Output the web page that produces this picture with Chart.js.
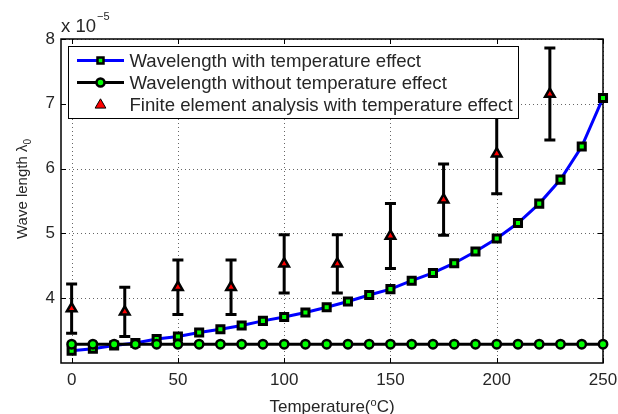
<!DOCTYPE html>
<html>
<head>
<meta charset="utf-8">
<script src="https://cdn.jsdelivr.net/npm/chart.js@4"></script>
<style>
  html, body { margin: 0; padding: 0; background: #fff; }
  #wrap { width: 618px; height: 414px; }
</style>
</head>
<body>
<div id="wrap"><canvas id="waveChart" width="618" height="414"></canvas></div>
<script>
// Wavelength values are in units of 1e-5 (see the exponent label on the y axis)
const temps = [0, 10, 20, 30, 40, 50, 60, 70, 80, 90, 100, 110, 120, 130, 140, 150, 160, 170, 180, 190, 200, 210, 220, 230, 240, 250];
const withTemp = [3.19, 3.22, 3.27, 3.31, 3.37, 3.41, 3.47, 3.52, 3.58, 3.65, 3.71, 3.78, 3.86, 3.95, 4.05, 4.14, 4.27, 4.39, 4.54, 4.72, 4.92, 5.16, 5.46, 5.83, 6.34, 7.09];
const withoutTemp = [3.29, 3.29, 3.29, 3.29, 3.29, 3.29, 3.29, 3.29, 3.29, 3.29, 3.29, 3.29, 3.29, 3.29, 3.29, 3.29, 3.29, 3.29, 3.29, 3.29, 3.29, 3.29, 3.29, 3.29, 3.29, 3.29];
const feaTemps = [0, 25, 50, 75, 100, 125, 150, 175, 200, 225];
const feaValues = [3.84, 3.79, 4.17, 4.17, 4.53, 4.53, 4.96, 5.52, 6.23, 7.15];
const feaErrors = [0.38, 0.38, 0.42, 0.42, 0.45, 0.45, 0.50, 0.55, 0.62, 0.71];
const xTicks = [0, 50, 100, 150, 200, 250];
const yTicks = [4, 5, 6, 7, 8];

const FONT = "'Liberation Sans', Arial, Helvetica, sans-serif";
const TEXT = '#262626';

const toPoints = (xs, ys) => xs.map((x, i) => ({ x: x, y: ys[i] }));

// grid, box, inward ticks, error bars, legend and axis titles
const framePlugin = {
    id: 'frame',
    beforeDatasetsDraw(chart) {
        const { ctx, chartArea: { left, right, top, bottom }, scales: { x, y } } = chart;
        ctx.save();

        // dotted grid
        ctx.strokeStyle = 'rgba(0,0,0,0.6)';
        ctx.lineWidth = 1;
        ctx.setLineDash([1, 3]);
        xTicks.forEach(v => {
            const px = Math.round(x.getPixelForValue(v)) + 0.5;
            ctx.beginPath(); ctx.moveTo(px, top); ctx.lineTo(px, bottom); ctx.stroke();
        });
        yTicks.forEach(v => {
            const py = Math.round(y.getPixelForValue(v)) + 0.5;
            ctx.beginPath(); ctx.moveTo(left, py); ctx.lineTo(right, py); ctx.stroke();
        });
        ctx.setLineDash([]);

        // axes box
        ctx.strokeStyle = '#000';
        ctx.lineWidth = 1.5;
        ctx.strokeRect(left, top, right - left, bottom - top);

        // ticks pointing inward on all four sides
        ctx.lineWidth = 1;
        const tl = 5;
        xTicks.forEach(v => {
            const px = Math.round(x.getPixelForValue(v)) + 0.5;
            ctx.beginPath();
            ctx.moveTo(px, bottom); ctx.lineTo(px, bottom - tl);
            ctx.moveTo(px, top); ctx.lineTo(px, top + tl);
            ctx.stroke();
        });
        yTicks.forEach(v => {
            const py = Math.round(y.getPixelForValue(v)) + 0.5;
            ctx.beginPath();
            ctx.moveTo(left, py); ctx.lineTo(left + tl, py);
            ctx.moveTo(right, py); ctx.lineTo(right - tl, py);
            ctx.stroke();
        });

        // error bars for the FE results
        ctx.lineWidth = 3;
        ctx.lineCap = 'butt';
        feaTemps.forEach((t, i) => {
            const px = x.getPixelForValue(t);
            const hi = y.getPixelForValue(feaValues[i] + feaErrors[i]);
            const lo = y.getPixelForValue(feaValues[i] - feaErrors[i]);
            ctx.beginPath();
            ctx.moveTo(px, hi); ctx.lineTo(px, lo);
            ctx.moveTo(px - 5.5, hi); ctx.lineTo(px + 5.5, hi);
            ctx.moveTo(px - 5.5, lo); ctx.lineTo(px + 5.5, lo);
            ctx.stroke();
        });
        ctx.restore();
    },
    afterDraw(chart) {
        const { ctx, chartArea: { left, right, top, bottom } } = chart;
        ctx.save();

        // legend box
        const lx = left + 7, ly = top + 7, lw = 450, lh = 72;
        ctx.fillStyle = '#fff';
        ctx.fillRect(lx, ly, lw, lh);
        ctx.strokeStyle = '#000';
        ctx.lineWidth = 1;
        ctx.strokeRect(lx + 0.5, ly + 0.5, lw, lh);

        const sx0 = lx + 9, sx1 = lx + 56, mx = lx + 32.5;
        const rows = [ly + 14.5, ly + 36.5, ly + 59];

        // row 1: blue line with square marker
        ctx.strokeStyle = '#0000ff';
        ctx.lineWidth = 3;
        ctx.beginPath(); ctx.moveTo(sx0, rows[0]); ctx.lineTo(sx1, rows[0]); ctx.stroke();
        ctx.fillStyle = '#00ff00';
        ctx.strokeStyle = '#000';
        ctx.lineWidth = 2.5;
        ctx.beginPath(); ctx.rect(mx - 3, rows[0] - 3, 6, 6); ctx.fill(); ctx.stroke();

        // row 2: black line with circle marker
        ctx.lineWidth = 3;
        ctx.beginPath(); ctx.moveTo(sx0, rows[1]); ctx.lineTo(sx1, rows[1]); ctx.stroke();
        ctx.lineWidth = 2.5;
        ctx.beginPath(); ctx.arc(mx, rows[1], 4, 0, Math.PI * 2); ctx.fill(); ctx.stroke();

        // row 3: red triangle
        ctx.fillStyle = '#ff0000';
        ctx.lineWidth = 1;
        const r = 6.2;
        ctx.beginPath();
        ctx.moveTo(mx, rows[2] - r);
        ctx.lineTo(mx + r * 0.866, rows[2] + r / 2);
        ctx.lineTo(mx - r * 0.866, rows[2] + r / 2);
        ctx.closePath();
        ctx.fill(); ctx.stroke();

        ctx.fillStyle = TEXT;
        ctx.font = '18.6px ' + FONT;
        ctx.textBaseline = 'middle';
        ctx.textAlign = 'left';
        chart.data.datasets.forEach((ds, i) => {
            ctx.fillText(ds.label, lx + 61.5, rows[i] + 1);
        });

        // exponent above the y axis
        ctx.textBaseline = 'alphabetic';
        ctx.font = '18.5px ' + FONT;
        ctx.fillText('x 10', left, top - 7);
        const ew = ctx.measureText('x 10').width;
        ctx.font = '11px ' + FONT;
        ctx.fillText('\u22125', left + ew + 1, top - 19);

        // x axis title with superscript
        const cx = (left + right) / 2;
        ctx.font = '17px ' + FONT;
        const a = 'Temperature(', b = 'C)';
        const wa = ctx.measureText(a).width, wb = ctx.measureText(b).width;
        ctx.font = '11px ' + FONT;
        const wo = ctx.measureText('o').width;
        let tx = cx - (wa + wo + wb) / 2;
        const base = bottom + 49;
        ctx.font = '17px ' + FONT;
        ctx.fillText(a, tx, base);
        ctx.font = '11px ' + FONT;
        ctx.fillText('o', tx + wa, base - 6.5);
        ctx.font = '17px ' + FONT;
        ctx.fillText(b, tx + wa + wo, base);

        // y axis title with subscript, rotated
        ctx.translate(27, (top + bottom) / 2 - 12);
        ctx.rotate(-Math.PI / 2);
        ctx.font = '15px ' + FONT;
        const ya = 'Wave length \u03bb';
        const wya = ctx.measureText(ya).width;
        ctx.font = '10px ' + FONT;
        const wys = ctx.measureText('0').width;
        ctx.font = '15px ' + FONT;
        ctx.fillText(ya, -(wya + wys) / 2, 0);
        ctx.font = '10px ' + FONT;
        ctx.fillText('0', -(wya + wys) / 2 + wya, 3.5);

        ctx.restore();
    }
};

const ctx = document.getElementById('waveChart').getContext('2d');
new Chart(ctx, {
    type: 'line',
    data: {
        datasets: [{
            label: 'Wavelength with temperature effect',
            data: toPoints(temps, withTemp),
            borderColor: '#0000ff',
            borderWidth: 3,
            pointStyle: 'rect',
            pointRadius: 5,
            pointBorderWidth: 3,
            pointBorderColor: '#000',
            pointBackgroundColor: '#00ff00',
            tension: 0,
            clip: false,
            order: 1
        }, {
            label: 'Wavelength without temperature effect',
            data: toPoints(temps, withoutTemp),
            borderColor: '#000',
            borderWidth: 3,
            pointStyle: 'circle',
            pointRadius: 4.2,
            pointBorderWidth: 2.5,
            pointBorderColor: '#000',
            pointBackgroundColor: '#00ff00',
            tension: 0,
            clip: false,
            order: 0
        }, {
            label: 'Finite element analysis with temperature effect',
            data: toPoints(feaTemps, feaValues),
            showLine: false,
            pointStyle: 'triangle',
            pointRadius: 5.5,
            pointBorderWidth: 2.5,
            pointBorderColor: '#000',
            pointBackgroundColor: '#ff0000',
            clip: false,
            order: -1
        }]
    },
    options: {
        responsive: false,
        animation: false,
        events: [],
        layout: { padding: { top: 39, right: 15, left: 0, bottom: 0 } },
        plugins: { legend: { display: false }, tooltip: { enabled: false } },
        scales: {
            x: {
                type: 'linear',
                min: -5,
                max: 250,
                grid: { display: false, drawTicks: false },
                border: { display: false },
                afterBuildTicks: s => { s.ticks = xTicks.map(v => ({ value: v })); },
                afterFit: s => { s.height = 51; s.paddingLeft = 0; s.paddingRight = 0; },
                ticks: { autoSkip: false, maxRotation: 0, padding: 7, color: TEXT, font: { family: FONT, size: 17 } }
            },
            y: {
                type: 'linear',
                min: 3.0,
                max: 8,
                grid: { display: false, drawTicks: false },
                border: { display: false },
                afterBuildTicks: s => { s.ticks = yTicks.map(v => ({ value: v })); },
                afterFit: s => { s.width = 61; s.paddingTop = 0; s.paddingBottom = 0; },
                ticks: { autoSkip: false, padding: 6, color: TEXT, font: { family: FONT, size: 17 } }
            }
        }
    },
    plugins: [framePlugin]
});
</script>
</body>
</html>
